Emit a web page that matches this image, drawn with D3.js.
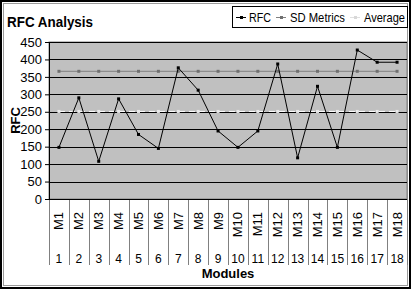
<!DOCTYPE html>
<html>
<head>
<meta charset="utf-8">
<script src="https://cdn.jsdelivr.net/npm/d3@7"></script>
<style>
  body { margin: 0; background: #fff; }
  svg text { font-family: "Liberation Sans", Arial, sans-serif; }
</style>
</head>
<body>
<div id="chart"></div>
<script>
// chart data
const modules = ['M1','M2','M3','M4','M5','M6','M7','M8','M9','M10','M11','M12','M13','M14','M15','M16','M17','M18'];
const moduleNums = ['1','2','3','4','5','6','7','8','9','10','11','12','13','14','15','16','17','18'];
const rfc = [148, 290, 108, 287, 185, 145, 376, 312, 195, 148, 195, 387, 118, 323, 148, 427, 392, 392];
const sdMetrics = [366, 366, 366, 366, 366, 366, 366, 366, 366, 366, 366, 366, 366, 366, 366, 366, 366, 366];
const average = [251, 251, 251, 251, 251, 251, 251, 251, 251, 251, 251, 251, 251, 251, 251, 251, 251, 251];
const yTicks = [0, 50, 100, 150, 200, 250, 300, 350, 400, 450];

const W = 411, H = 289;
const plot = { left: 49, right: 407, top: 42, bottom: 199 };

const svg = d3.select('#chart').append('svg')
  .attr('width', W).attr('height', H);

// outer frame
svg.append('rect').attr('x', 1).attr('y', 1).attr('width', W - 2).attr('height', H - 2)
  .attr('fill', '#fff').attr('stroke', '#000').attr('stroke-width', 2);
svg.append('rect').attr('x', 3.5).attr('y', 3.5).attr('width', W - 7).attr('height', H - 7)
  .attr('fill', 'none').attr('stroke', '#9a9a9a').attr('stroke-width', 1);

const x = d3.scaleBand().domain(modules).range([plot.left, plot.right]);
const y = d3.scaleLinear().domain([0, 450]).range([plot.bottom, plot.top]);

// plot background
svg.append('rect')
  .attr('x', plot.left).attr('y', plot.top)
  .attr('width', plot.right - plot.left).attr('height', plot.bottom - plot.top)
  .attr('fill', '#c0c0c0').attr('stroke', '#808080');

// gridlines
svg.append('g').selectAll('line').data(yTicks.filter(d => d > 0)).enter().append('line')
  .attr('x1', plot.left).attr('x2', plot.right)
  .attr('y1', d => Math.round(y(d)) + 0.5).attr('y2', d => Math.round(y(d)) + 0.5)
  .attr('stroke', '#000').attr('stroke-width', 1);

// y axis
const yAxis = d3.axisLeft(y).tickValues(yTicks).tickSize(4).tickPadding(3);
const yg = svg.append('g').attr('transform', `translate(${plot.left},0)`).call(yAxis);
yg.select('.domain').attr('stroke', '#000');
yg.selectAll('.tick line').attr('stroke', '#000');
yg.selectAll('.tick text').attr('font-size', 13).attr('fill', '#000')
  .attr('font-family', '"Liberation Sans", Arial, sans-serif');

// x category separators
const seps = modules.map(m => x(m)).concat([plot.right]);
svg.append('g').selectAll('line').data(seps).enter().append('line')
  .attr('x1', d => Math.round(d) + 0.5).attr('x2', d => Math.round(d) + 0.5)
  .attr('y1', plot.bottom).attr('y2', 265)
  .attr('stroke', '#808080');
svg.append('line').attr('x1', plot.left).attr('x2', plot.right)
  .attr('y1', plot.bottom + 0.5).attr('y2', plot.bottom + 0.5).attr('stroke', '#000');

// module labels (rotated)
svg.append('g').selectAll('text').data(modules).enter().append('text')
  .attr('transform', d => `translate(${x(d) + x.bandwidth() / 2 + 4.5},212) rotate(-90)`)
  .attr('text-anchor', 'end')
  .attr('font-size', 13)
  .text(d => d);

// module numbers
svg.append('g').selectAll('text').data(moduleNums).enter().append('text')
  .attr('x', (d, i) => x(modules[i]) + x.bandwidth() / 2)
  .attr('y', 263)
  .attr('text-anchor', 'middle')
  .attr('font-size', 12)
  .text(d => d);

// axis titles
svg.append('text').attr('x', (plot.left + plot.right) / 2).attr('y', 278)
  .attr('text-anchor', 'middle').attr('font-size', 13).attr('font-weight', 'bold')
  .text('Modules');
svg.append('text')
  .attr('transform', `translate(20,${(plot.top + plot.bottom) / 2}) rotate(-90)`)
  .attr('text-anchor', 'middle').attr('font-size', 13).attr('font-weight', 'bold')
  .text('RFC');

// title
svg.append('text').attr('x', 7).attr('y', 27)
  .attr('font-size', 15).attr('font-weight', 'bold')
  .attr('textLength', 86).attr('lengthAdjust', 'spacingAndGlyphs')
  .text('RFC Analysis');

// series
const cx = i => x(modules[i]) + x.bandwidth() / 2;
const line = d3.line().x((d, i) => cx(i)).y(d => y(d));

const series = [
  { name: 'Average', values: average, stroke: '#ffffff', dash: '6,4', marker: '#e8e8e8' },
  { name: 'SD Metrics', values: sdMetrics, stroke: '#808080', dash: null, marker: '#707070' },
  { name: 'RFC', values: rfc, stroke: '#000000', dash: null, marker: '#000000' }
];

series.forEach(s => {
  svg.append('path').datum(s.values)
    .attr('d', line).attr('fill', 'none')
    .attr('stroke', s.stroke).attr('stroke-width', 1)
    .attr('stroke-dasharray', s.dash);
  svg.append('g').selectAll('rect').data(s.values).enter().append('rect')
    .attr('x', (d, i) => cx(i) - 1.5).attr('y', d => y(d) - 1.5)
    .attr('width', 3).attr('height', 3)
    .attr('fill', s.marker);
});

// legend
const lg = svg.append('g');
lg.append('rect').attr('x', 232.5).attr('y', 6.5).attr('width', 175).attr('height', 21)
  .attr('fill', '#fff').attr('stroke', '#000');
const legendItems = [
  { name: 'RFC', x: 236, tx: 249, w: 22, stroke: '#000', marker: '#000' },
  { name: 'SD Metrics', x: 276, tx: 290, w: 55, stroke: '#808080', marker: '#707070' },
  { name: 'Average', x: 350, tx: 364, w: 41, stroke: '#e0e0e0', marker: '#d8d8d8' }
];
legendItems.forEach(it => {
  lg.append('line').attr('x1', it.x).attr('x2', it.x + 10).attr('y1', 17.5).attr('y2', 17.5)
    .attr('stroke', it.stroke);
  lg.append('rect').attr('x', it.x + 4).attr('y', 16).attr('width', 3).attr('height', 3)
    .attr('fill', it.marker);
  lg.append('text').attr('x', it.tx).attr('y', 22).attr('font-size', 13)
    .attr('textLength', it.w).attr('lengthAdjust', 'spacingAndGlyphs')
    .text(it.name);
});
</script>
</body>
</html>
